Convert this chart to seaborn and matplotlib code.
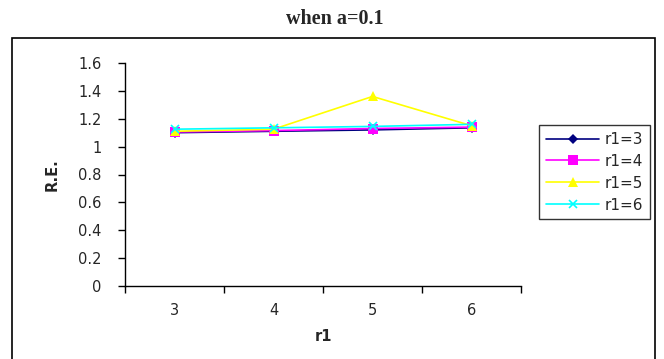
import matplotlib
matplotlib.use("Agg")
import matplotlib.pyplot as plt
import seaborn as sns
import pandas as pd
from matplotlib.patches import Rectangle

categories = ["3", "4", "5", "6"]
series_names = ["r1=3", "r1=4", "r1=5", "r1=6"]
r1_3 = [1.10, 1.11, 1.12, 1.135]
r1_4 = [1.105, 1.115, 1.13, 1.14]
r1_5 = [1.11, 1.125, 1.36, 1.15]
r1_6 = [1.125, 1.135, 1.145, 1.16]
y_ticks = [0, 0.2, 0.4, 0.6, 0.8, 1, 1.2, 1.4, 1.6]
y_tick_labels = ["0", "0.2", "0.4", "0.6", "0.8", "1", "1.2", "1.4", "1.6"]

sns.set_theme(style="white")
plt.rcParams["font.family"] = ["DejaVu Sans"]

rows = []
for name, vals in zip(series_names, [r1_3, r1_4, r1_5, r1_6]):
    for i, (c, v) in enumerate(zip(categories, vals)):
        rows.append({"pos": i, "r1": c, "RE": v, "series": name})
df = pd.DataFrame(rows)

W, H = 664, 359
fig = plt.figure(figsize=(W / 100, H / 100), dpi=100)
ax = fig.add_axes([125 / W, 1 - 286 / H, (521 - 125) / W, (286 - 63) / H])

palette = {"r1=3": "#000080", "r1=4": "#FF00FF", "r1=5": "#FFFF00", "r1=6": "#00FFFF"}
markers = {"r1=3": "D", "r1=4": "s", "r1=5": "^", "r1=6": "X"}
sizes = {"r1=3": 5.5, "r1=4": 6.5, "r1=5": 7, "r1=6": 6}
sns.lineplot(data=df, x="pos", y="RE", hue="series", style="series",
             palette=palette, markers=markers, dashes=False, ax=ax,
             linewidth=1.2, markersize=6, markeredgewidth=0, legend=True)

ax.set_xlim(-0.5, 3.5)
ax.set_ylim(0, 1.6)
ax.set_yticks(y_ticks)
ax.set_yticklabels(y_tick_labels, fontsize=10.5)
ax.set_xticks([0, 1, 2, 3])
ax.set_xticklabels(categories, fontsize=10.5)
ax.set_xticks([-0.5, 0.5, 1.5, 2.5, 3.5], minor=True)
ax.tick_params(axis="x", which="major", bottom=True, length=0, pad=12.5)
ax.tick_params(axis="x", which="minor", bottom=True, length=5, width=1,
               color="black", direction="out")
ax.tick_params(axis="y", which="major", left=True, length=5, width=1,
               color="black", direction="out", pad=12)
for s in ["top", "right"]:
    ax.spines[s].set_visible(False)
for s in ["left", "bottom"]:
    ax.spines[s].set_color("black")
    ax.spines[s].set_linewidth(1.0)
ax.set_xlabel("r1", fontsize=10.5, fontweight="bold", labelpad=8)
ax.set_ylabel("R.E.", fontsize=10.5, fontweight="bold", labelpad=13)
ax.grid(False)

leg = ax.legend(loc="upper left", bbox_to_anchor=(539 / W, 1 - 125 / H),
                bbox_transform=fig.transFigure, frameon=True, fancybox=False,
                edgecolor="black", fontsize=11, handlelength=3.5, labelspacing=0.45,
                borderpad=0.45, handletextpad=0.35, borderaxespad=0)
leg.get_frame().set_linewidth(1.0)


def restyle(line, name):
    line.set_markersize(sizes[name])
    if name == "r1=6":
        line.set_marker("x")
        line.set_markeredgewidth(1.2)
        line.set_markeredgecolor(palette[name])


for line in ax.lines:
    col = matplotlib.colors.to_hex(line.get_color()).upper()
    for name in series_names:
        if palette[name] == col:
            restyle(line, name)
for handle, text in zip(leg.legend_handles, leg.get_texts()):
    restyle(handle, text.get_text())

fig.text(335 / W, 1 - 19 / H, "when a=0.1", ha="center", va="center",
         fontsize=14.5, fontweight="bold", family=["Liberation Serif", "DejaVu Serif"])

fig.patches.append(Rectangle((12 / W, -0.01), (655 - 12) / W, (1 - 38 / H) + 0.01,
                             transform=fig.transFigure, fill=False,
                             edgecolor="black", linewidth=1.2))

fig.savefig("out.png", dpi=100)
